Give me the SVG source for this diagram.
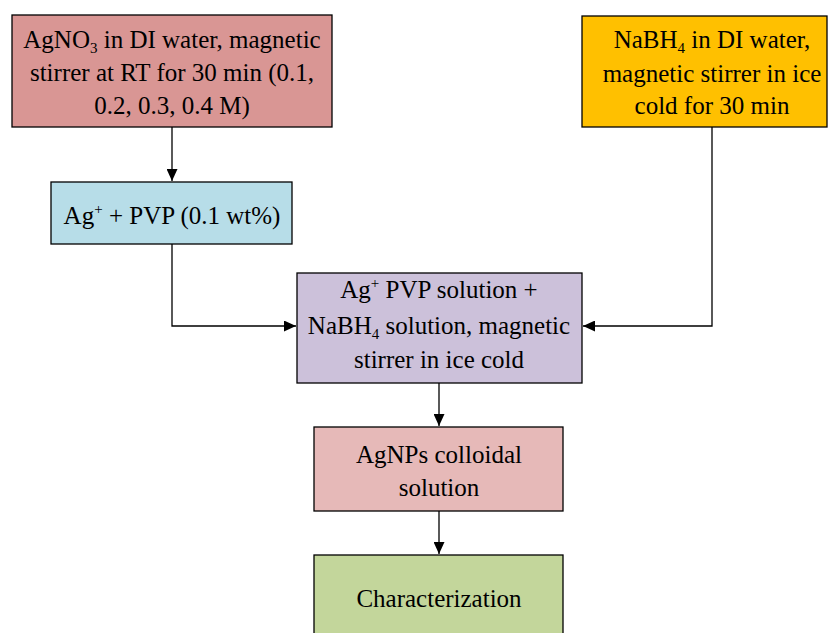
<svg xmlns="http://www.w3.org/2000/svg" width="829" height="633" viewBox="0 0 829 633">
<defs>
<marker id="ah" markerWidth="12" markerHeight="11" refX="12" refY="5.5" orient="auto" markerUnits="userSpaceOnUse">
<path d="M0,0 L12,5.5 L0,11 Z" fill="#000"/>
</marker>
<style>
.box{stroke:#000;stroke-width:1.3}
.sub{font-size:15px}
.con{fill:none;stroke:#000;stroke-width:1.3}
</style>
</defs>
<rect width="829" height="633" fill="#fff"/>
<g font-family="Liberation Serif, Times New Roman, serif" font-size="25" fill="#000" text-anchor="middle">
<g id="n1">
<rect class="box" x="12" y="15" width="320" height="112" fill="#D99694"/>
<text x="172" y="48">AgNO<tspan class="sub" dy="5">3</tspan><tspan dy="-5"> in DI water, magnetic</tspan></text>
<text x="172" y="81">stirrer at RT for 30 min (0.1,</text>
<text x="172" y="114">0.2, 0.3, 0.4 M)</text>
</g>
<g id="n2">
<rect class="box" x="582" y="16" width="245" height="111" fill="#FFC000"/>
<text x="712" y="48">NaBH<tspan class="sub" dy="5">4</tspan><tspan dy="-5"> in DI water,</tspan></text>
<text x="712" y="82">magnetic stirrer in ice</text>
<text x="712" y="114">cold for 30 min</text>
</g>
<g id="n3">
<rect class="box" x="51" y="182" width="241" height="62" fill="#B7DDE8"/>
<text x="172" y="224">Ag<tspan class="sub" dy="-10">+</tspan><tspan dy="10"> + PVP (0.1 wt%)</tspan></text>
</g>
<g id="n4">
<rect class="box" x="297" y="273" width="285" height="110" fill="#CCC1DA"/>
<text x="439" y="298">Ag<tspan class="sub" dy="-10">+</tspan><tspan dy="10"> PVP solution +</tspan></text>
<text x="439" y="334">NaBH<tspan class="sub" dy="5">4</tspan><tspan dy="-5"> solution, magnetic</tspan></text>
<text x="439" y="368">stirrer in ice cold</text>
</g>
<g id="n5">
<rect class="box" x="314" y="427" width="249" height="84" fill="#E6B9B8"/>
<text x="439" y="463">AgNPs colloidal</text>
<text x="439" y="496">solution</text>
</g>
<g id="n6">
<rect class="box" x="314" y="555" width="249" height="90" fill="#C3D69B"/>
<text x="439" y="607">Characterization</text>
</g>
</g>
<g id="connectors">
<path class="con" d="M172,127 V181" marker-end="url(#ah)"/>
<path class="con" d="M172,244 V326 H296" marker-end="url(#ah)"/>
<path class="con" d="M712,127 V326 H583" marker-end="url(#ah)"/>
<path class="con" d="M439,383 V426" marker-end="url(#ah)"/>
<path class="con" d="M439,511 V554" marker-end="url(#ah)"/>
</g>
</svg>
